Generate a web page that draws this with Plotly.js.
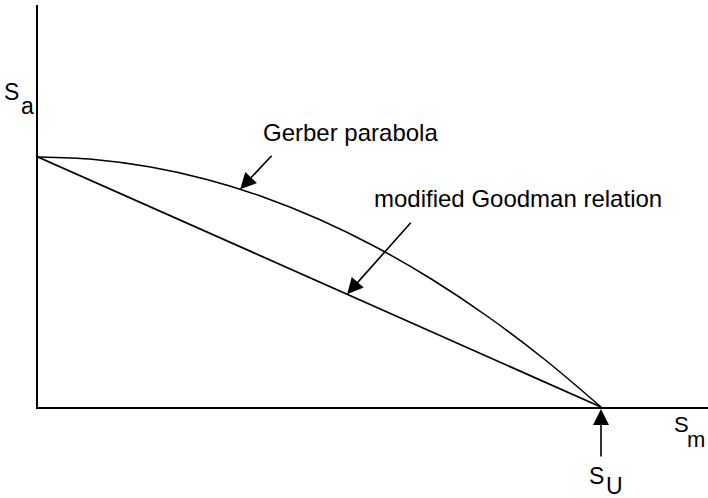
<!DOCTYPE html>
<html>
<head>
<meta charset="utf-8">
<script src="https://cdn.plot.ly/plotly-3.0.1.min.js"></script>
<style>
  html, body { margin: 0; padding: 0; background: #fff; }
  #chart { width: 708px; height: 498px; }
</style>
</head>
<body>
<div id="chart"></div>
<script>
// Gerber parabola (Sm / Su, Sa / Se)
var gerberSm = [0, 0.1, 0.2, 0.3, 0.4, 0.5, 0.6, 0.7, 0.8, 0.9, 1.0];
var gerberSa = [1.0, 0.99, 0.96, 0.91, 0.84, 0.75, 0.64, 0.51, 0.36, 0.19, 0];

// modified Goodman relation (straight line)
var goodmanSm = [0, 1];
var goodmanSa = [1, 0];

// where the label arrows point
var gerberArrowAt = [0.359, 0.871];
var goodmanArrowAt = [0.549, 0.451];

var labelFont = 'Liberation Sans, Arial, Helvetica, sans-serif';

// plot area in pixels: x 38..708, y 5..407
function px(x) { return (x - 38) / 670; }
function py(y) { return (407 - y) / 402; }

function textAt(txt, x, y, size) {
    return {
        text: txt, xref: 'paper', yref: 'paper', x: px(x), y: py(y),
        xanchor: 'center', yanchor: 'middle', showarrow: false,
        font: { family: labelFont, size: size, color: '#000' }
    };
}

function arrowTo(pt, ax, ay, ref) {
    return {
        text: '', xref: ref || 'x', yref: ref || 'y', x: pt[0], y: pt[1],
        ax: ax, ay: ay, showarrow: true,
        arrowhead: 2, arrowsize: 2, arrowwidth: 1.6, arrowcolor: '#000',
        standoff: 0
    };
}

var traces = [
    {
        x: gerberSm, y: gerberSa, type: 'scatter', mode: 'lines',
        line: { color: '#000', width: 1.5, shape: 'spline' },
        cliponaxis: false, hoverinfo: 'skip'
    },
    {
        x: goodmanSm, y: goodmanSa, type: 'scatter', mode: 'lines',
        line: { color: '#000', width: 1.7 },
        cliponaxis: false, hoverinfo: 'skip'
    }
];

var layout = {
    width: 708,
    height: 498,
    autosize: false,
    margin: { l: 38, r: 0, t: 5, b: 91, pad: 0 },
    paper_bgcolor: '#fff',
    plot_bgcolor: '#fff',
    showlegend: false,
    xaxis: {
        range: [0, 670 / 563],
        showline: true, linecolor: '#000', linewidth: 2,
        showgrid: false, zeroline: false, ticks: '', showticklabels: false
    },
    yaxis: {
        range: [0, 402 / 250],
        showline: true, linecolor: '#000', linewidth: 2,
        showgrid: false, zeroline: false, ticks: '', showticklabels: false
    },
    annotations: [
        textAt('S', 11, 92, 23),
        textAt('a', 27, 106, 23),
        textAt('S', 681, 425, 22),
        textAt('m', 696, 440, 22),
        textAt('S', 596, 476, 23),
        textAt('U', 614, 486, 23),
        textAt('Gerber parabola', 350.5, 132, 24),
        textAt('modified Goodman relation', 518, 198, 24),
        arrowTo(gerberArrowAt, 33, -35),
        arrowTo(goodmanArrowAt, 65, -73),
        arrowTo([px(601), py(409)], 0, 49, 'paper')
    ]
};

Plotly.newPlot('chart', traces, layout, { staticPlot: true, displayModeBar: false });
</script>
</body>
</html>
